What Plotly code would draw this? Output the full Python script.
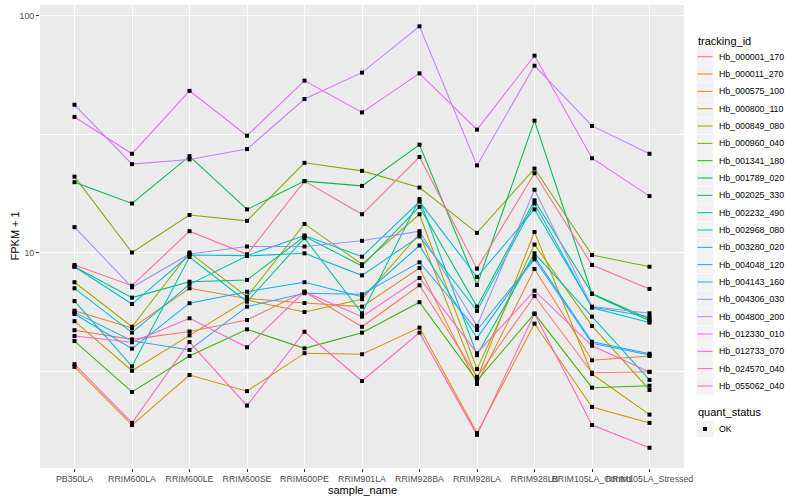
import plotly.graph_objects as go

samples = ["PB350LA", "RRIM600LA", "RRIM600LE", "RRIM600SE", "RRIM600PE", "RRIM901LA",
           "RRIM928BA", "RRIM928LA", "RRIM928LB", "RRIM105LA_Control", "RRIM105LA_Stressed"]

tracking_ids = ["Hb_000001_170", "Hb_000011_270", "Hb_000575_100", "Hb_000800_110", "Hb_000849_080",
                "Hb_000960_040", "Hb_001341_180", "Hb_001789_020", "Hb_002025_330", "Hb_002232_490",
                "Hb_002968_080", "Hb_003280_020", "Hb_004048_120", "Hb_004143_160", "Hb_004306_030",
                "Hb_004800_200", "Hb_012330_010", "Hb_012733_070", "Hb_024570_040", "Hb_055062_040"]

colors = ["#F8766D", "#EA8331", "#D89000", "#C09B00", "#A3A500", "#7CAE00", "#39B600", "#00BB4E",
          "#00BF7D", "#00C1A3", "#00BFC4", "#00BAE0", "#00B0F6", "#35A2FF", "#9590FF", "#C77CFF",
          "#E76BF3", "#FA62DB", "#FF62BC", "#FF6C91"]

# FPKM + 1 values, one list per tracking_id (order follows samples)
Hb_000001_170 = [4.70, 4.30, 4.64, 5.19, 6.83, 4.86, 7.27, 2.99, 6.55, 3.11, 3.14]
Hb_000011_270 = [5.68, 4.80, 7.06, 6.40, 6.12, 5.91, 8.60, 2.79, 8.52, 3.51, 3.66]
Hb_000575_100 = [3.29, 1.87, 3.04, 2.60, 3.76, 3.72, 4.82, 1.73, 5.01, 2.23, 1.91]
Hb_000800_110 = [5.13, 3.17, 4.47, 6.30, 5.61, 6.35, 12.0, 2.93, 12.2, 3.07, 2.07]
Hb_000849_080 = [7.49, 4.86, 10.0, 6.51, 13.2, 8.92, 14.5, 3.22, 10.8, 4.90, 2.63]
Hb_000960_040 = [20.9, 10.0, 14.4, 13.6, 23.9, 22.1, 18.8, 12.1, 22.6, 9.76, 8.71]
Hb_001341_180 = [4.23, 2.58, 3.66, 4.74, 3.94, 4.59, 6.17, 2.88, 5.52, 2.69, 2.74]
Hb_001789_020 = [19.8, 16.1, 25.5, 15.2, 20.0, 19.1, 28.5, 7.29, 36.0, 6.68, 5.15]
Hb_002025_330 = [8.71, 6.45, 7.53, 7.66, 11.7, 8.77, 15.6, 5.91, 16.6, 6.71, 5.24]
Hb_002232_490 = [6.24, 3.31, 9.57, 6.20, 11.5, 5.54, 16.8, 3.69, 9.92, 5.36, 2.90]
Hb_002968_080 = [7.06, 4.59, 7.34, 9.67, 9.92, 8.01, 11.7, 5.67, 16.1, 5.85, 5.06]
Hb_003280_020 = [8.71, 6.06, 9.76, 9.70, 11.8, 9.60, 16.4, 7.88, 15.2, 5.89, 5.36]
Hb_004048_120 = [5.50, 3.93, 6.11, 6.83, 7.49, 6.51, 10.7, 4.35, 9.57, 4.20, 3.74]
Hb_004143_160 = [5.59, 4.24, 3.88, 5.91, 6.73, 6.66, 9.09, 4.71, 9.36, 4.14, 3.69]
Hb_004306_030 = [12.8, 7.13, 9.86, 10.6, 10.6, 11.2, 12.3, 4.90, 18.4, 5.91, 5.54]
Hb_004800_200 = [42.0, 23.6, 24.7, 27.3, 44.4, 57.4, 90.0, 23.3, 61.4, 34.2, 26.1]
Hb_012330_010 = [37.3, 26.1, 48.1, 31.1, 53.1, 39.0, 57.0, 33.0, 67.7, 25.0, 17.3]
Hb_012733_070 = [4.44, 4.18, 5.28, 3.98, 6.83, 5.36, 7.81, 3.76, 6.90, 4.04, 3.13]
Hb_024570_040 = [3.38, 1.91, 4.19, 2.26, 4.63, 2.87, 4.59, 1.70, 5.52, 1.87, 1.50]
Hb_055062_040 = [8.86, 7.24, 12.3, 9.83, 20.0, 14.5, 25.3, 8.55, 21.6, 8.86, 7.02]

series = [Hb_000001_170, Hb_000011_270, Hb_000575_100, Hb_000800_110, Hb_000849_080,
          Hb_000960_040, Hb_001341_180, Hb_001789_020, Hb_002025_330, Hb_002232_490,
          Hb_002968_080, Hb_003280_020, Hb_004048_120, Hb_004143_160, Hb_004306_030,
          Hb_004800_200, Hb_012330_010, Hb_012733_070, Hb_024570_040, Hb_055062_040]

y_ticks = [10, 100]
y_tick_labels = ["10", "100"]
y_minor = [3.1623, 31.623]

FONT = "Liberation Sans, Arial, Helvetica, sans-serif"

fig = go.Figure()
for name, vals, col in zip(tracking_ids, series, colors):
    fig.add_trace(go.Scatter(x=samples, y=vals, mode="lines", name=name,
                             line=dict(color=col, width=1.05), showlegend=False))
for name, vals in zip(tracking_ids, series):
    fig.add_trace(go.Scatter(x=samples, y=vals, mode="markers", name=name,
                             marker=dict(symbol="square", size=4, color="black"),
                             showlegend=False))

W, H = 800, 500
L, R, T, B = 40, 116, 5, 32
pw, ph = W - L - R, H - T - B


def px(x):
    return (x - L) / pw


def py(y):
    return (H - B - y) / ph


shapes = []
annotations = []
# legend: tracking_id
annotations.append(dict(x=px(696), y=py(40.7), xref="paper", yref="paper", text="tracking_id",
                        showarrow=False, xanchor="left", yanchor="middle",
                        font=dict(size=11, color="black", family=FONT)))
step = 17.33
for i, (name, col) in enumerate(zip(tracking_ids, colors)):
    yc = 56.7 + i * step
    shapes.append(dict(type="rect", xref="paper", yref="paper",
                       x0=px(696.5), x1=px(713.5), y0=py(yc + 8.4), y1=py(yc - 8.4),
                       fillcolor="#F2F2F2", line=dict(width=0), layer="above"))
    shapes.append(dict(type="line", xref="paper", yref="paper",
                       x0=px(697.5), x1=px(712.5), y0=py(yc), y1=py(yc),
                       line=dict(color=col, width=1.05), layer="above"))
    annotations.append(dict(x=px(716.5), y=py(yc), xref="paper", yref="paper", text=name,
                            showarrow=False, xanchor="left", yanchor="middle",
                            font=dict(size=8.8, color="black", family=FONT)))
# legend: quant_status
annotations.append(dict(x=px(696), y=py(412.3), xref="paper", yref="paper", text="quant_status",
                        showarrow=False, xanchor="left", yanchor="middle",
                        font=dict(size=11, color="black", family=FONT)))
shapes.append(dict(type="rect", xref="paper", yref="paper",
                   x0=px(696.5), x1=px(713.5), y0=py(429 + 8.4), y1=py(429 - 8.4),
                   fillcolor="#F2F2F2", line=dict(width=0), layer="above"))
shapes.append(dict(type="rect", xref="paper", yref="paper",
                   x0=px(703), x1=px(707), y0=py(431), y1=py(427),
                   fillcolor="black", line=dict(width=0), layer="above"))
annotations.append(dict(x=px(716.5), y=py(429), xref="paper", yref="paper", text="OK",
                        showarrow=False, xanchor="left", yanchor="middle",
                        font=dict(size=8.8, color="black", family=FONT)))
# axis titles
annotations.append(dict(x=0.5, y=py(489.5), xref="paper", yref="paper", text="sample_name",
                        showarrow=False, xanchor="center", yanchor="middle",
                        font=dict(size=11, color="black", family=FONT)))
annotations.append(dict(x=px(14), y=0.5, xref="paper", yref="paper", text="FPKM + 1",
                        showarrow=False, xanchor="center", yanchor="middle", textangle=-90,
                        font=dict(size=11, color="black", family=FONT)))

fig.update_layout(
    width=W, height=H,
    margin=dict(l=L, r=R, t=T, b=B, pad=0),
    paper_bgcolor="white",
    plot_bgcolor="#EBEBEB",
    font=dict(family=FONT, size=8.8, color="#4D4D4D"),
    showlegend=False,
    shapes=shapes,
    annotations=annotations,
    xaxis=dict(
        type="category", categoryorder="array", categoryarray=samples,
        range=[-0.6, len(samples) - 0.4],
        showgrid=True, gridcolor="white", gridwidth=1.1,
        ticks="outside", ticklen=3, tickcolor="#333333", tickwidth=1,
        tickangle=0, tickfont=dict(size=8.8, color="#4D4D4D", family=FONT),
        ticklabelstandoff=-1,
        showline=False, zeroline=False,
    ),
    yaxis=dict(
        type="log", range=[0.0907, 2.0443],
        tickmode="array", tickvals=y_ticks, ticktext=y_tick_labels,
        showgrid=True, gridcolor="white", gridwidth=1.1,
        ticks="outside", ticklen=3, tickcolor="#333333", tickwidth=1,
        tickfont=dict(size=8.8, color="#4D4D4D", family=FONT),
        minor=dict(tickmode="array", tickvals=y_minor, showgrid=True,
                   gridcolor="white", gridwidth=0.55, ticks=""),
        showline=False, zeroline=False,
    ),
)

fig.write_html("out.html", config={"displayModeBar": False},
               post_script="document.body.style.margin='0px';document.body.style.overflow='hidden';")
